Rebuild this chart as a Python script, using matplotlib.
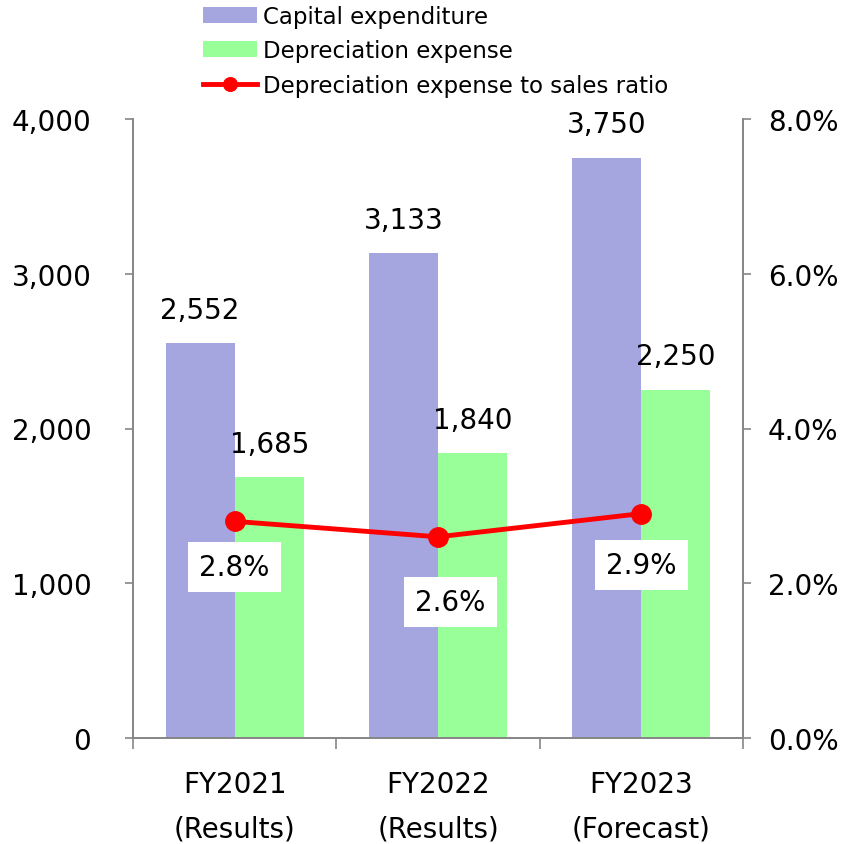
import matplotlib.pyplot as plt
import numpy as np

# capex / depreciation by fiscal year (millions of yen)
years = ['FY2021\n(Results)', 'FY2022\n(Results)', 'FY2023\n(Forecast)']
capex = [2552, 3133, 3750]
depreciation = [1685, 1840, 2250]
dep_ratio = [2.8, 2.6, 2.9]  # % of sales

plt.rcParams['font.family'] = ['DejaVu Sans']
axis_grey = '#868686'
purple = '#a5a5e0'
green = '#99ff99'

fig = plt.figure(figsize=(8.48, 8.45), dpi=100)
ax = fig.add_axes([133 / 848, 106 / 845, 610 / 848, 619 / 845])
ax2 = ax.twinx()

x = np.arange(len(years))
w = 0.34
b1 = ax.bar(x - w / 2, capex, w, color=purple, label='Capital expenditure', zorder=2)
b2 = ax.bar(x + w / 2, depreciation, w, color=green, label='Depreciation expense', zorder=2)

for bars in (b1, b2):
    for rect in bars:
        h = rect.get_height()
        ax.annotate(f'{h:,.0f}', (rect.get_x() + rect.get_width() / 2, h),
                    xytext=(0, 24), textcoords='offset points',
                    ha='center', va='center', fontsize=20)

ln, = ax2.plot(x, dep_ratio, color='red', lw=3.5, marker='o', markersize=14,
               label='Depreciation expense to sales ratio', zorder=3)
# ratio labels were nudged individually
label_shift = [(0, -33), (9, -47), (0, -37)]
for xi, v, (dx, dy) in zip(x, dep_ratio, label_shift):
    ax2.annotate(f'{v:.1f}%', (xi, v), xytext=(dx, dy), textcoords='offset points',
                 ha='center', va='center', fontsize=20,
                 bbox=dict(boxstyle='square,pad=0.4', fc='white', ec='none'))

ax.set_xlim(-0.5, 2.5)
ax.set_ylim(0, 4000)
ax2.set_ylim(0, 8)
ax.set_yticks([0, 1000, 2000, 3000, 4000])
ax.set_yticklabels([f'{v:,}' for v in [0, 1000, 2000, 3000, 4000]])
ax2.set_yticks([0, 2, 4, 6, 8])
ax2.set_yticklabels([f'{v:.1f}%' for v in [0, 2, 4, 6, 8]])

# boundary ticks between categories, labels on minor ticks
ax.set_xticks([-0.5, 0.5, 1.5, 2.5])
ax.set_xticklabels([])
ax.set_xticks(x, minor=True)
ax.set_xticklabels(years, minor=True, fontsize=20, linespacing=1.75)
ax.tick_params(axis='x', which='major', direction='out', length=8, color=axis_grey, width=1.2)
ax.tick_params(axis='x', which='minor', length=0, pad=23)
ax.tick_params(axis='y', direction='out', length=6, color=axis_grey, width=1.2,
               labelsize=20, pad=24)
ax2.tick_params(axis='y', direction='out', length=6, color=axis_grey, width=1.2,
                labelsize=20, pad=12)

for a in (ax, ax2):
    a.spines['top'].set_visible(False)
    for s in ('left', 'right', 'bottom'):
        a.spines[s].set_color(axis_grey)
        a.spines[s].set_linewidth(1.2)
ax.set_zorder(ax2.get_zorder() - 1)
ax2.patch.set_visible(False)

fig.legend(handles=[b1, b2, ln], loc='upper left', bbox_to_anchor=(203 / 848, 0.993),
           frameon=False, fontsize=16.5, borderpad=0, borderaxespad=0, markerscale=0.7,
           handlelength=2.35, handletextpad=0.25, labelspacing=0.5, handleheight=0.7)

fig.savefig('out.png', dpi=100)
